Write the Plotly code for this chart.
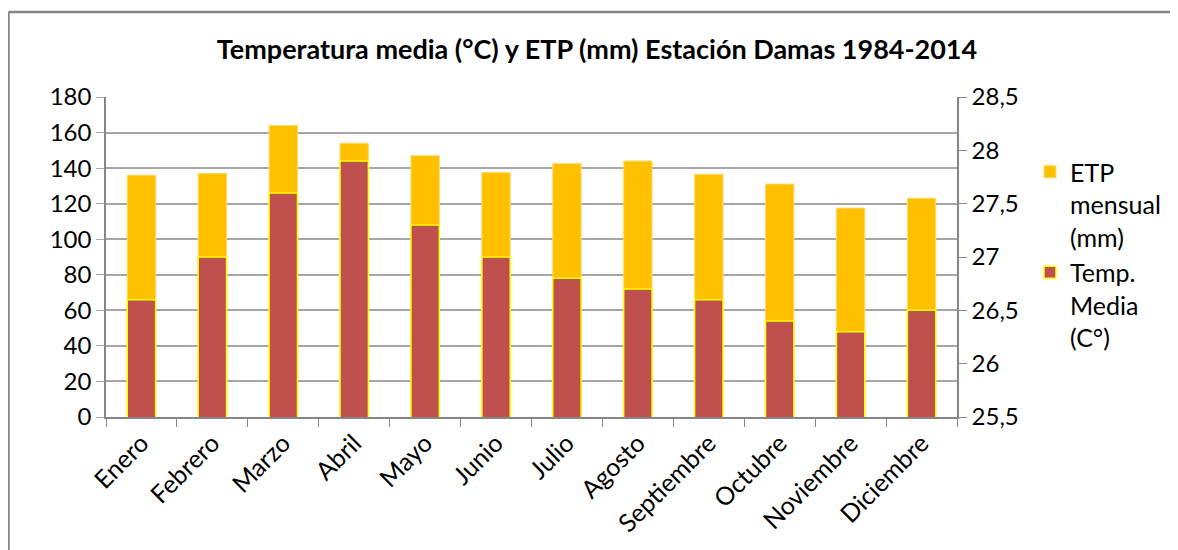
import plotly.graph_objects as go

# --- Data ---
meses = ["Enero", "Febrero", "Marzo", "Abril", "Mayo", "Junio", "Julio",
         "Agosto", "Septiembre", "Octubre", "Noviembre", "Diciembre"]
etp_mm = [136, 137, 164, 154, 147, 137.5, 142.5, 144, 136.5, 131, 117.5, 123]
temp_c = [26.6, 27.0, 27.6, 27.9, 27.3, 27.0, 26.8, 26.7, 26.6, 26.4, 26.3, 26.5]

y2_ticks = [25.5, 26, 26.5, 27, 27.5, 28, 28.5]
y2_labels = ["25,5", "26", "26,5", "27", "27,5", "28", "28,5"]

FONT = "Lato"
GRID = "#A6A6A6"
AXIS = "#868686"

# plot area in figure pixels (page adds an 8px body margin)
L, T, W, H = 98, 89, 851, 320


def px_x(fx):
    return (fx - L) / W


def px_y(fy):
    return (T + H - fy) / H


fig = go.Figure()

# ETP bars on the left axis
fig.add_trace(go.Bar(
    x=meses, y=etp_mm,
    name="ETP<br>mensual<br>(mm)",
    marker=dict(color="#FFC000", line=dict(color="#FFD966", width=1)),
    width=0.4,
    yaxis="y",
))

# Temperature bars on the right axis, drawn over the ETP bars
fig.add_trace(go.Bar(
    x=meses, y=temp_c,
    name="Temp.<br>Media<br>(C°)",
    marker=dict(color="#C0504D", line=dict(color="#FFFF00", width=1.5)),
    width=0.4,
    yaxis="y2",
))

fig.update_layout(
    width=1178, height=550,
    autosize=False,
    margin=dict(l=L, r=1178 - L - W, t=T, b=550 - T - H),
    paper_bgcolor="white",
    plot_bgcolor="white",
    barmode="overlay",
    font=dict(family=FONT, size=24, color="#000000"),
    title=dict(
        text="<b>Temperatura media (°C) y ETP (mm) Estación Damas 1984-2014</b>",
        x=0.5, xanchor="center",
        y=1 - 42 / 550, yanchor="middle",
        font=dict(family=FONT, size=27, color="#000000"),
    ),
    xaxis=dict(
        type="category",
        tickangle=-45,
        tickson="boundaries",
        ticks="outside", ticklen=8, tickcolor=AXIS,
        showline=True, linecolor=AXIS, linewidth=1.5,
        showgrid=False,
        tickfont=dict(size=25),
    ),
    yaxis=dict(
        range=[0, 180], dtick=20,
        ticks="outside", ticklen=8, tickcolor=GRID,
        showline=True, linecolor=AXIS, linewidth=1.5,
        showgrid=True, gridcolor=GRID, gridwidth=1.5,
        zeroline=False,
        tickfont=dict(size=24),
    ),
    yaxis2=dict(
        overlaying="y", side="right",
        range=[25.5, 28.5],
        tickvals=y2_ticks, ticktext=y2_labels,
        ticks="outside", ticklen=8, tickcolor=AXIS,
        showline=True, linecolor=AXIS, linewidth=1.5,
        showgrid=False, zeroline=False,
        tickfont=dict(size=24),
    ),
    legend=dict(
        x=px_x(1022), xanchor="left",
        y=px_y(141), yanchor="top",
        valign="top",
        traceorder="normal",
        font=dict(size=25),
        tracegroupgap=0,
    ),
    shapes=[
        # chart area border (top and left edges visible in the picture)
        dict(type="line", xref="paper", yref="paper",
             x0=px_x(0.5), x1=px_x(1180), y0=px_y(4), y1=px_y(4),
             line=dict(color=AXIS, width=2.5)),
        dict(type="line", xref="paper", yref="paper",
             x0=px_x(0.5), x1=px_x(0.5), y0=px_y(4), y1=px_y(560),
             line=dict(color=AXIS, width=2.5)),
    ],
)

fig.write_html("out.html")
